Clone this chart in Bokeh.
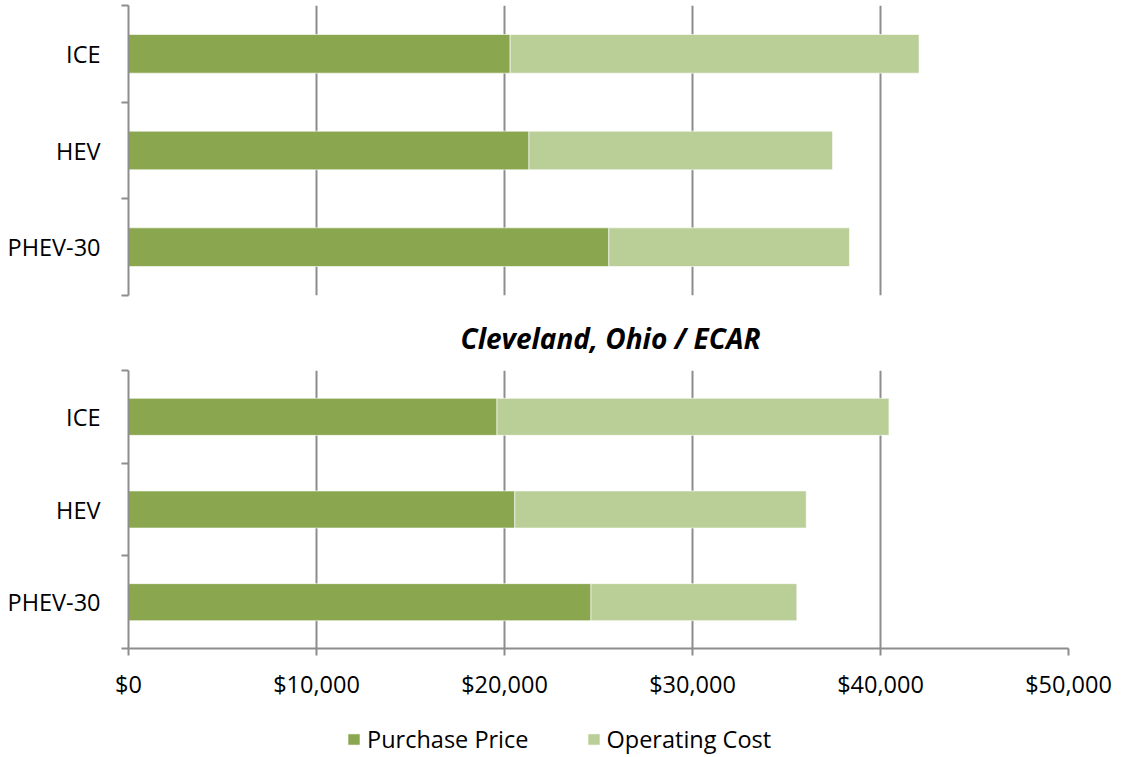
from bokeh.plotting import figure
from bokeh.models import (Range1d, FixedTicker, NumeralTickFormatter, Legend,
                          LegendItem, ColumnDataSource)
from bokeh.layouts import column
from bokeh.embed import file_html
from bokeh.resources import INLINE

# ---- data (top-to-bottom display order) ----
categories = ["ICE", "HEV", "PHEV-30"]
top_purchase = [20300, 21300, 25550]
top_operating = [21750, 16150, 12800]
bottom_purchase = [19600, 20550, 24600]
bottom_operating = [20850, 15500, 10950]
x_ticks = [0, 10000, 20000, 30000, 40000, 50000]
bottom_title = "Cleveland, Ohio / ECAR"
series_names = ["Purchase Price", "Operating Cost"]

DARK = "#8AA64F"
LIGHT = "#BACF98"
GRID = "#8D8D8D"
FONT = "Open Sans"
FS = "23.5px"

n = len(categories)
ypos = [n - 0.5 - i for i in range(n)]          # category centres
boundaries = [float(i) for i in range(n + 1)]    # category edges
overrides = {y: c for y, c in zip(ypos, categories)}


def make_source(purchase, operating):
    return ColumnDataSource(dict(
        y=ypos,
        p_left=[0] * n,
        p_right=purchase,
        o_left=purchase,
        o_right=[a + b for a, b in zip(purchase, operating)],
    ))


def add_bars(p, src, visible=True):
    r1 = p.hbar(y="y", left="p_left", right="p_right", height=0.4, source=src,
                fill_color=DARK, line_color="white", line_alpha=0.6,
                line_width=1, visible=visible)
    r2 = p.hbar(y="y", left="o_left", right="o_right", height=0.4, source=src,
                fill_color=LIGHT, line_color="white", line_alpha=0.6,
                line_width=1, visible=visible)
    return r1, r2


def make_panel(src, height, b_top, b_bottom, b_right, show_x):
    p = figure(width=1122, height=height, output_backend="svg",
               toolbar_location=None, x_range=Range1d(0, 50000),
               y_range=Range1d(0, n), min_border_left=128,
               min_border_right=b_right, min_border_top=b_top,
               min_border_bottom=b_bottom)
    p.outline_line_color = None
    p.background_fill_color = "white"
    p.border_fill_color = "white"

    add_bars(p, src)

    p.ygrid.visible = False
    p.xgrid.ticker = FixedTicker(ticks=x_ticks)
    p.xgrid.grid_line_color = GRID
    p.xgrid.grid_line_width = 2

    ya = p.yaxis[0]
    ya.ticker = FixedTicker(ticks=ypos, minor_ticks=boundaries)
    ya.major_label_overrides = overrides
    ya.major_tick_out = 0
    ya.major_tick_in = 0
    ya.minor_tick_out = 7
    ya.minor_tick_in = 0
    ya.minor_tick_line_color = GRID
    ya.minor_tick_line_width = 2
    ya.axis_line_color = GRID
    ya.axis_line_width = 2
    ya.major_label_standoff = 21
    ya.major_label_text_font = FONT
    ya.major_label_text_font_size = FS
    ya.major_label_text_color = "black"

    xa = p.xaxis[0]
    if show_x:
        xa.ticker = FixedTicker(ticks=x_ticks)
        xa.formatter = NumeralTickFormatter(format="$0,0")
        xa.major_tick_out = 7
        xa.major_tick_in = 0
        xa.minor_tick_out = 0
        xa.minor_tick_in = 0
        xa.major_tick_line_color = GRID
        xa.major_tick_line_width = 2
        xa.axis_line_color = GRID
        xa.axis_line_width = 2
        xa.major_label_standoff = 12
        xa.major_label_text_font = FONT
        xa.major_label_text_font_size = FS
        xa.major_label_text_color = "black"
    else:
        xa.visible = False
    return p


top_src = make_source(top_purchase, top_operating)
bot_src = make_source(bottom_purchase, bottom_operating)

top = make_panel(top_src, 300, 5, 5, 54, False)
bot = make_panel(bot_src, 402, 70, 52, 49, True)

bot.title.text = bottom_title
bot.title.text_font = FONT
bot.title.text_font_size = "28px"
bot.title.text_font_style = "bold italic"
bot.title.align = "left"
bot.title.offset = 332
bot.title.standoff = 27
bot.title.text_color = "black"

# legend strip
leg = figure(width=1122, height=55, output_backend="svg", toolbar_location=None,
             x_axis_location=None, y_axis_location=None, min_border=0,
             x_range=Range1d(0, 1), y_range=Range1d(0, 1))
leg.outline_line_color = None
leg.grid.visible = False
l1, l2 = add_bars(leg, bot_src, visible=False)
legend = Legend(items=[LegendItem(label=series_names[0], renderers=[l1]),
                       LegendItem(label=series_names[1], renderers=[l2])],
                orientation="horizontal", location=(218, 2),
                padding=0, margin=0, spacing=57, label_standoff=6,
                glyph_width=15, glyph_height=14,
                label_text_font=FONT, label_text_font_size=FS,
                label_text_color="black",
                border_line_color=None, background_fill_alpha=0)
leg.add_layout(legend, "center")

layout = column(top, bot, leg, spacing=0)
open("out.html", "w").write(file_html(layout, INLINE))
